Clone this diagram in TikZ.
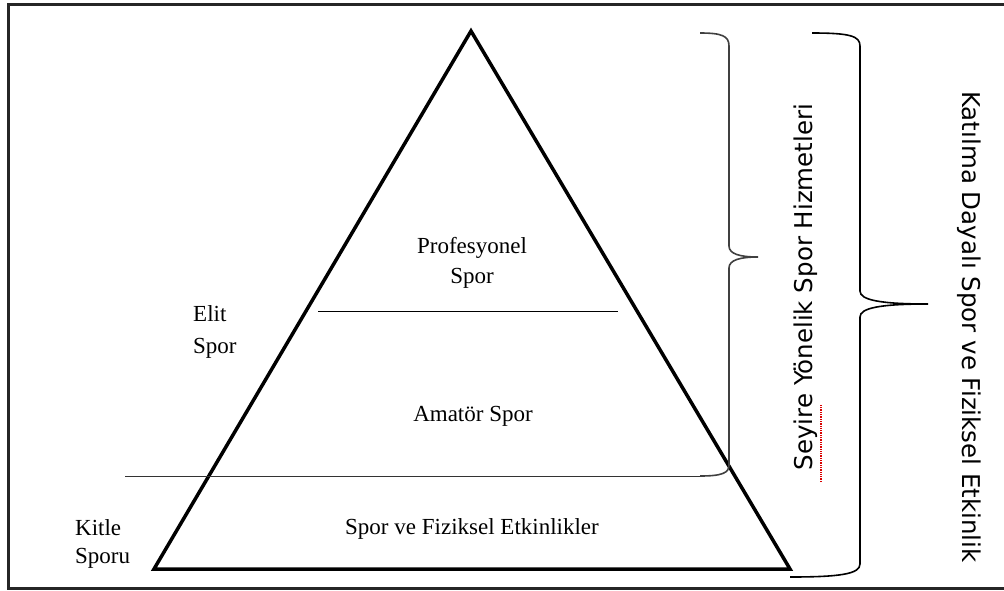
\documentclass[tikz,border=0pt]{standalone}
\usepackage{fontspec}
\setmainfont{Liberation Serif}
\newfontfamily\sansf{DejaVu Sans}
\begin{document}
\begin{tikzpicture}[x=1pt,y=-1pt,
  serif/.style={inner sep=0pt,font=\fontsize{23}{32}\selectfont},
  sanslbl/.style={inner sep=0pt,font=\sansf\fontsize{24.5}{30}\selectfont},
  tri/.style={line width=3.5pt,line join=miter},
  thin/.style={line width=1pt},
  bracestyle/.style={line width=1.6pt},
  frame/.style={line width=3pt,black!85}]
\useasboundingbox (0,0) rectangle (1004,590);
% frame (right side lies outside the picture)
\draw[frame] (1010,4) -- (8,4) -- (8,588) -- (1010,588);
% pyramid
\coordinate (apex) at (471,31);
\coordinate (bl) at (154,569);
\coordinate (br) at (790,569);
\draw[tri] (apex) -- (bl) -- (br) -- cycle;
% level lines
\coordinate (s1a) at (318,311);
\coordinate (s1b) at (618,311);
\draw[thin] (s1a) -- (s1b);
\coordinate (s2a) at (125,476);
\coordinate (s2b) at (702,476);
\draw[thin,black!80] (s2a) -- (s2b);
% inner brace
\coordinate (ib1) at (700,33);
\coordinate (ibtip) at (758,257);
\coordinate (ib2) at (700,476);
\draw[bracestyle,black!75] (ib1) .. controls (722,33) and (729,36) .. (729,46) -- (729,246)
  .. controls (729,254) and (740,257) .. (ibtip)
  .. controls (740,257) and (729,260) .. (729,268) -- (729,465)
  .. controls (729,473) and (722,476) .. (ib2);
% outer brace
\coordinate (ob1) at (812,33);
\coordinate (obtip) at (928,304);
\coordinate (ob2) at (790,577);
\draw[bracestyle] (ob1) .. controls (850,33) and (860,36) .. (860,46) -- (860,291)
  .. controls (860,300) and (880,304) .. (obtip)
  .. controls (880,304) and (860,308) .. (860,317) -- (860,564)
  .. controls (860,574) and (840,577) .. (ob2);
% texts
\node[serif,anchor=base] (prof1) at (472,253) {Profesyonel};
\node[serif,anchor=base] (prof2) at (472,283) {Spor};
\node[serif,anchor=base] (amator) at (473,421) {Amatör Spor};
\node[serif,anchor=base] (fiz) at (472,534) {Spor ve Fiziksel Etkinlikler};
\node[serif,anchor=base west] (elit1) at (193,321) {Elit};
\node[serif,anchor=base west] (elit2) at (193,353) {Spor};
\node[serif,anchor=base west] (kitle1) at (75,535) {Kitle};
\node[serif,anchor=base west] (kitle2) at (75,563) {Sporu};
\node[sanslbl,rotate=90,anchor=base] (seyire) at (812,287) {Seyire Yönelik Spor Hizmetleri};
\node[sanslbl,rotate=-90,anchor=base] (katilma) at (962,327) {Katılma Dayalı Spor ve Fiziksel Etkinlik};
% spell-check squiggle under "Seyire"
\coordinate (sq1) at (821,482);
\coordinate (sq2) at (821,404);
\draw[red!85!black,line width=1.3pt,densely dotted] (sq1) -- (sq2);
\end{tikzpicture}
\end{document}
